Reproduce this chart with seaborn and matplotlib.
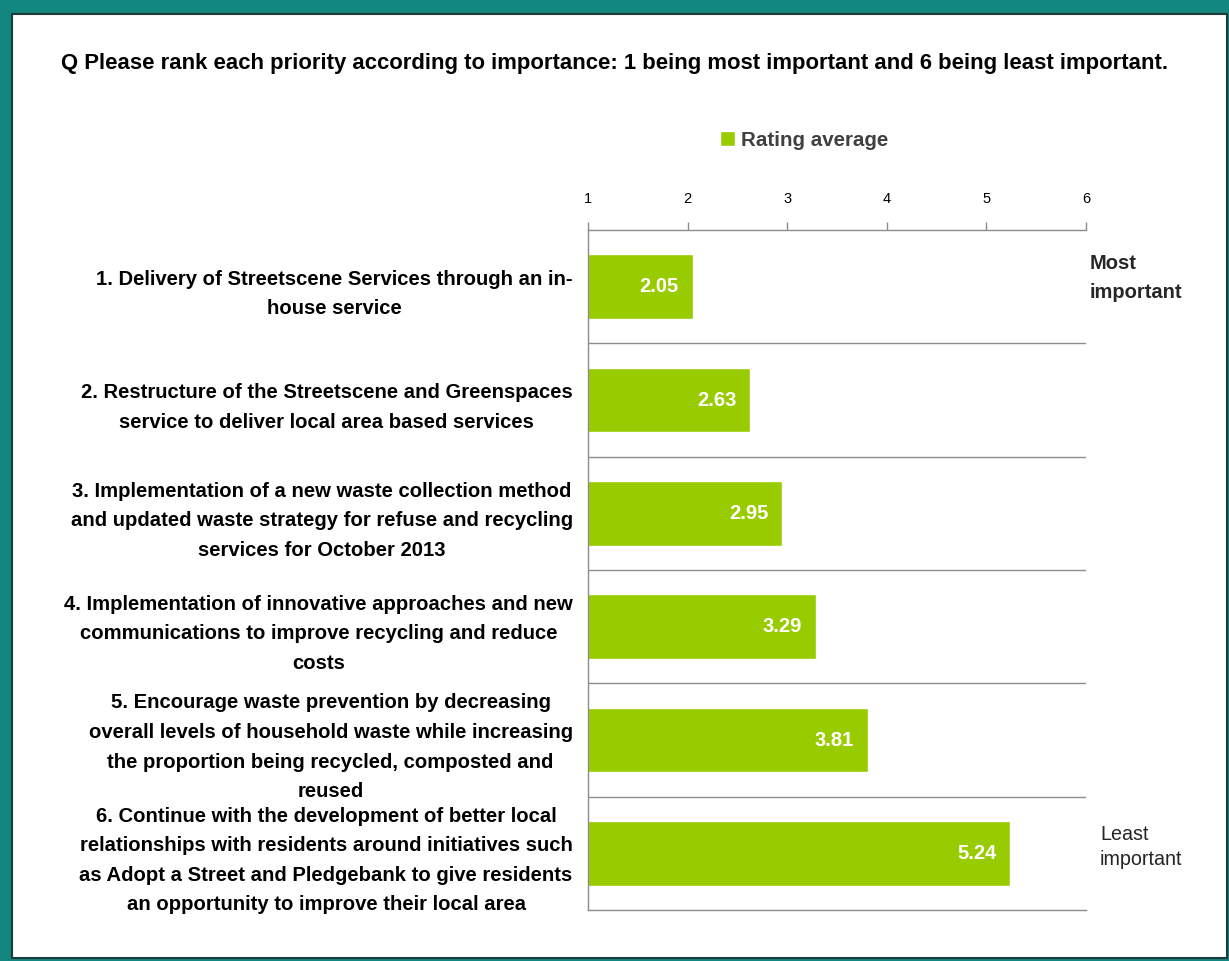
import matplotlib
matplotlib.use("Agg")
import matplotlib.pyplot as plt
from matplotlib.patches import Rectangle, Patch
import seaborn as sns
import pandas as pd

# Survey priorities (wrapped as shown on the axis) and their average rank
priorities = [
    "1. Delivery of Streetscene Services through an in-\nhouse service",
    "2. Restructure of the Streetscene and Greenspaces\nservice to deliver local area based services",
    "3. Implementation of a new waste collection method\nand updated waste strategy for refuse and recycling\nservices for October 2013",
    "4. Implementation of innovative approaches and new\ncommunications to improve recycling and reduce\ncosts",
    "5. Encourage waste prevention by decreasing\noverall levels of household waste while increasing\nthe proportion being recycled, composted and\nreused",
    "6. Continue with the development of better local\nrelationships with residents around initiatives such\nas Adopt a Street and Pledgebank to give residents\nan opportunity to improve their local area",
]
rating_average = [2.05, 2.63, 2.95, 3.29, 3.81, 5.24]
x_ticks = [1, 2, 3, 4, 5, 6]

title = "Q Please rank each priority according to importance: 1 being most important and 6 being least important."
series_name = "Rating average"

GREEN = "#99CC00"
TEAL = "#12877F"
GRID = "#8C8C8C"

sns.set_style("white")
plt.rcParams["font.family"] = ["Liberation Sans", "DejaVu Sans"]

df = pd.DataFrame({"priority": priorities, "rating": rating_average})

W, H = 1229, 961
fig = plt.figure(figsize=(W / 100, H / 100), dpi=100)
fig.patch.set_facecolor(TEAL)

# white chart area inside the teal frame
fig.patches.append(Rectangle((12 / W, 1 - 958 / H), (1227 - 12) / W, (958 - 14) / H,
                             transform=fig.transFigure, facecolor="white",
                             edgecolor="#1E3B3A", linewidth=1.5, zorder=-10))

ax = fig.add_axes([588 / W, 1 - 910 / H, (1086 - 588) / W, (910 - 230) / H])
ax.set_zorder(5)
ax.patch.set_alpha(0)
sns.barplot(data=df, x="rating", y="priority", orient="h", color=GREEN,
            width=0.57, saturation=1, ax=ax)

ax.set_xlim(1, 6)
ax.set_ylim(len(priorities) - 0.5, -0.5)
ax.set_xlabel("")
ax.set_ylabel("")

# value axis along the top
ax.xaxis.tick_top()
ax.set_xticks(x_ticks)
ax.set_xticklabels([str(t) for t in x_ticks], fontsize=10.5, color="black")
ax.tick_params(axis="x", direction="out", length=6, width=1, color=GRID, pad=11)

# category labels
ax.tick_params(axis="y", length=0, pad=11)
for lbl in ax.get_yticklabels():
    lbl.set_fontsize(14.6)
    lbl.set_fontweight("bold")
    lbl.set_multialignment("center")
    lbl.set_linespacing(1.7)
    lbl.set_color("black")

# separators between categories
ax.set_yticks([i + 0.5 for i in range(len(priorities) - 1)], minor=True)
ax.grid(False)
ax.grid(axis="y", which="minor", color=GRID, linewidth=1)
ax.tick_params(axis="y", which="minor", length=0)

for side in ["top", "left", "bottom"]:
    ax.spines[side].set_visible(True)
    ax.spines[side].set_color(GRID)
    ax.spines[side].set_linewidth(1)
ax.spines["right"].set_visible(False)

# value labels inside the bar ends
for i, v in enumerate(rating_average):
    ax.annotate(f"{v:.2f}", xy=(v, i), xytext=(-14, 0), textcoords="offset pixels",
                ha="right", va="center", color="white", fontsize=14.5, fontweight="bold",
                family=["Liberation Sans Narrow", "Liberation Sans"])

fig.text(615 / W, 1 - 63 / H, title, ha="center", va="center",
         fontsize=15.9, fontweight="bold", color="black")

leg = ax.legend(handles=[Patch(facecolor=GREEN, label=series_name)],
                loc="center", bbox_to_anchor=(804 / W, 1 - 140 / H),
                bbox_transform=fig.transFigure, frameon=False,
                handlelength=0.72, handleheight=0.72, handletextpad=0.3,
                prop={"size": 14.8, "weight": "bold"})
for t in leg.get_texts():
    t.set_color("#404040")

fig.text(1090 / W, 1 - 278 / H, "Most\nimportant", ha="left", va="center",
         fontsize=14.5, fontweight="bold", linespacing=1.65)
fig.text(1100 / W, 1 - 847 / H, "Least\nimportant", ha="left", va="center",
         fontsize=14.2, linespacing=1.4)

fig.savefig("out.png", dpi=100, facecolor=fig.get_facecolor())
